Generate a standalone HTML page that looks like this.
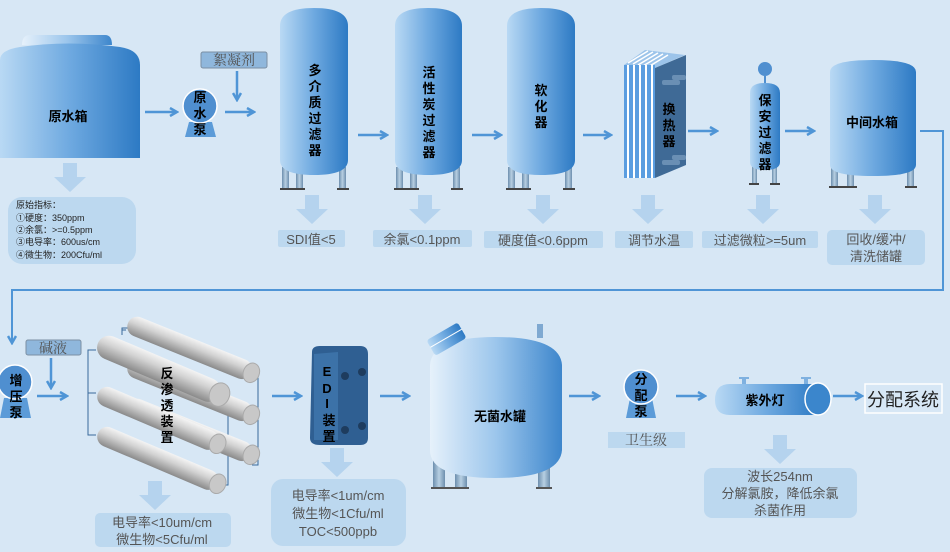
<!DOCTYPE html>
<html><head><meta charset="utf-8">
<style>
html,body{margin:0;padding:0;background:#d7e7f5;}
svg{display:block;}
text{font-family:"Liberation Sans","Noto Sans CJK SC",sans-serif;}
.b{font-weight:bold;font-size:13px;fill:#000;}
.l{font-family:"Liberation Serif","Noto Serif CJK SC",serif;font-size:14px;fill:#555;}
.ls{font-family:"Liberation Sans","Noto Sans CJK SC",sans-serif;font-size:13px;fill:#555;}
</style></head><body>
<svg width="950" height="552" viewBox="0 0 950 552" xmlns="http://www.w3.org/2000/svg">
<defs>
<linearGradient id="t" x1="0" x2="1" y1="0" y2="0">
<stop offset="0" stop-color="#b9d9f4"/><stop offset="0.5" stop-color="#6ea9e0"/><stop offset="1" stop-color="#2d7ac4"/></linearGradient>
<linearGradient id="t2" x1="0" x2="1"><stop offset="0" stop-color="#e6f1fb"/><stop offset="0.5" stop-color="#9cc6ec"/><stop offset="1" stop-color="#3d86cc"/></linearGradient>
<linearGradient id="leg" x1="0" x2="1"><stop offset="0" stop-color="#6d8fae"/><stop offset="0.5" stop-color="#b7cfe2"/><stop offset="1" stop-color="#6d8fae"/></linearGradient>
<linearGradient id="tube" x1="0" x2="0" y1="0" y2="1"><stop offset="0" stop-color="#f4f4f4"/><stop offset="0.4" stop-color="#d2d2d2"/><stop offset="1" stop-color="#8a8a8a"/></linearGradient>
<marker id="ah" markerWidth="10" markerHeight="10" refX="8" refY="5" orient="auto" markerUnits="userSpaceOnUse"><path d="M1,1 L8,5 L1,9" fill="none" stroke="#4f95d6" stroke-width="2.5"/></marker>
<g id="da"><path d="M-7,0 h14 v14 h9 l-16,15 l-16,-15 h9z" fill="#b5d3ee"/></g>
<g id="legs3"><rect x="0" y="0" width="7" height="22" fill="url(#leg)"/><rect x="14" y="0" width="7" height="22" fill="url(#leg)"/><rect x="57" y="0" width="7" height="22" fill="url(#leg)"/><rect x="-2" y="21" width="25" height="2" fill="#444"/><rect x="55" y="21" width="12" height="2" fill="#444"/></g>
</defs>
<rect width="950" height="552" fill="#d7e7f5"/>

<!-- 原水箱 -->
<path d="M22,45 Q22,35 30,35 L105,35 Q112,35 112,45 Z" fill="url(#t2)"/>
<path d="M0,60 Q0,50 20,47 Q68,40 120,47 Q140,50 140,65 L140,158 L0,158 Z" fill="url(#t)"/>
<text x="68" y="121" class="b" text-anchor="middle">原水箱</text>
<use href="#da" x="70" y="163"/>
<rect x="8" y="197" width="128" height="67" rx="14" fill="#bcd8ef"/>
<text font-size="9" fill="#222"><tspan x="16" y="208">原始指标：</tspan><tspan x="16" y="221">①硬度：350ppm</tspan><tspan x="16" y="233">②余氯：&gt;=0.5ppm</tspan><tspan x="16" y="245">③电导率：600us/cm</tspan><tspan x="16" y="258">④微生物：200Cfu/ml</tspan></text>

<line x1="145" y1="112" x2="177" y2="112" stroke="#4f95d6" stroke-width="2.5" marker-end="url(#ah)"/>
<!-- pump 1 -->
<path d="M189,122 L212,122 L216,137 L185,137Z" fill="#5b9bd8"/>
<circle cx="200" cy="106" r="17" fill="#4f8fd0" stroke="#fff" stroke-width="1.5"/>
<text class="b" font-size="12" text-anchor="middle"><tspan x="200" y="102">原</tspan><tspan x="200" y="118">水</tspan><tspan x="200" y="134">泵</tspan></text>
<rect x="201" y="52" width="66" height="16" rx="2" fill="#8fb7dc" stroke="#7b8fa3"/>
<text x="234" y="65" class="l" font-size="14" fill="#444" text-anchor="middle">絮凝剂</text>
<line x1="237" y1="71" x2="237" y2="100" stroke="#4f95d6" stroke-width="2.5" marker-end="url(#ah)"/>
<line x1="225" y1="112" x2="254" y2="112" stroke="#4f95d6" stroke-width="2.5" marker-end="url(#ah)"/>

<!-- filters -->
<g>
<use href="#legs3" x="282" y="167"/>
<path d="M280,26 Q280,8 314,8 Q348,8 348,26 L348,160 Q348,175 314,175 Q280,175 280,160Z" fill="url(#t)"/>
<text class="b" text-anchor="middle"><tspan x="315" y="75">多</tspan><tspan x="315" y="91">介</tspan><tspan x="315" y="107">质</tspan><tspan x="315" y="123">过</tspan><tspan x="315" y="139">滤</tspan><tspan x="315" y="155">器</tspan></text>
</g>
<line x1="358" y1="135" x2="387" y2="135" stroke="#4f95d6" stroke-width="2.5" marker-end="url(#ah)"/>
<g>
<use href="#legs3" x="396" y="167"/>
<path d="M395,26 Q395,8 428,8 Q462,8 462,26 L462,160 Q462,175 428,175 Q395,175 395,160Z" fill="url(#t)"/>
<text class="b" text-anchor="middle"><tspan x="429" y="77">活</tspan><tspan x="429" y="93">性</tspan><tspan x="429" y="109">炭</tspan><tspan x="429" y="125">过</tspan><tspan x="429" y="141">滤</tspan><tspan x="429" y="157">器</tspan></text>
</g>
<line x1="472" y1="135" x2="501" y2="135" stroke="#4f95d6" stroke-width="2.5" marker-end="url(#ah)"/>
<g>
<use href="#legs3" x="508" y="167"/>
<path d="M507,26 Q507,8 541,8 Q575,8 575,26 L575,160 Q575,175 541,175 Q507,175 507,160Z" fill="url(#t)"/>
<text class="b" text-anchor="middle"><tspan x="541" y="95">软</tspan><tspan x="541" y="111">化</tspan><tspan x="541" y="127">器</tspan></text>
</g>
<line x1="583" y1="135" x2="611" y2="135" stroke="#4f95d6" stroke-width="2.5" marker-end="url(#ah)"/>

<!-- heat exchanger -->
<path d="M624,65 L645,50 L685,55 L655,68 Z" fill="#9cc4ea"/>
<g stroke="#fff" stroke-width="1.5"><line x1="628" y1="63" x2="648" y2="51"/><line x1="633" y1="64" x2="653" y2="52"/><line x1="638" y1="65" x2="658" y2="53"/><line x1="643" y1="66" x2="663" y2="54"/><line x1="648" y1="67" x2="668" y2="55"/></g>
<rect x="624" y="65" width="31" height="113" fill="#5a9de0"/>
<g fill="#fff"><rect x="627" y="65" width="2" height="113"/><rect x="633" y="65" width="2" height="113"/><rect x="639" y="65" width="2" height="113"/><rect x="645" y="65" width="2" height="113"/><rect x="651" y="65" width="2" height="113"/></g>
<path d="M655,68 L686,55 L686,165 L655,178Z" fill="#3f6a96"/>
<g fill="#6a8fb4"><rect x="662" y="80" width="18" height="5" rx="2"/><rect x="672" y="75" width="14" height="5" rx="2"/><rect x="662" y="160" width="18" height="5" rx="2"/><rect x="672" y="155" width="14" height="5" rx="2"/></g>
<text class="b" text-anchor="middle"><tspan x="669" y="114">换</tspan><tspan x="669" y="130">热</tspan><tspan x="669" y="146">器</tspan></text>
<line x1="688" y1="131" x2="717" y2="131" stroke="#4f95d6" stroke-width="2.5" marker-end="url(#ah)"/>

<!-- cartridge -->
<rect x="752" y="160" width="5" height="24" fill="url(#leg)"/><rect x="772" y="160" width="5" height="24" fill="url(#leg)"/>
<rect x="749" y="183" width="10" height="2" fill="#444"/><rect x="770" y="183" width="10" height="2" fill="#444"/>
<line x1="765" y1="76" x2="765" y2="85" stroke="#4f8fd0" stroke-width="2"/>
<circle cx="765" cy="69" r="7" fill="#4f8fd0"/>
<path d="M750,93 Q750,83 765,83 Q780,83 780,93 L780,162 Q780,170 765,170 Q750,170 750,162Z" fill="url(#t)"/>
<text class="b" text-anchor="middle"><tspan x="765" y="105">保</tspan><tspan x="765" y="121">安</tspan><tspan x="765" y="137">过</tspan><tspan x="765" y="153">滤</tspan><tspan x="765" y="169">器</tspan></text>
<line x1="785" y1="131" x2="814" y2="131" stroke="#4f95d6" stroke-width="2.5" marker-end="url(#ah)"/>

<!-- middle tank -->
<g transform="translate(831,165)"><rect x="0" y="0" width="7" height="22" fill="url(#leg)"/><rect x="16" y="0" width="7" height="22" fill="url(#leg)"/><rect x="76" y="0" width="7" height="22" fill="url(#leg)"/><rect x="-2" y="21" width="28" height="2" fill="#444"/><rect x="74" y="21" width="12" height="2" fill="#444"/></g>
<path d="M830,72 Q830,60 873,60 Q916,60 916,72 L916,165 Q916,176 873,176 Q830,176 830,165Z" fill="url(#t)"/>
<text x="872" y="127" class="b" text-anchor="middle">中间水箱</text>

<!-- connector -->
<polyline points="920,131 943,131 943,290 12,290 12,343" fill="none" stroke="#4f95d6" stroke-width="2" marker-end="url(#ah)"/>

<!-- top labels -->
<use href="#da" x="312" y="195"/>
<rect x="278" y="230" width="67" height="17" rx="2" fill="#bcd8ef"/><text x="311" y="244" class="ls" text-anchor="middle">SDI值&lt;5</text>
<use href="#da" x="425" y="195"/>
<rect x="373" y="230" width="99" height="17" rx="2" fill="#bcd8ef"/><text x="422" y="244" class="ls" text-anchor="middle">余氯&lt;0.1ppm</text>
<use href="#da" x="543" y="195"/>
<rect x="484" y="231" width="119" height="17" rx="2" fill="#bcd8ef"/><text x="543" y="245" class="ls" text-anchor="middle">硬度值&lt;0.6ppm</text>
<use href="#da" x="648" y="195"/>
<rect x="615" y="231" width="78" height="17" rx="2" fill="#bcd8ef"/><text x="654" y="245" class="ls" text-anchor="middle">调节水温</text>
<use href="#da" x="763" y="195"/>
<rect x="702" y="231" width="116" height="17" rx="2" fill="#bcd8ef"/><text x="760" y="245" class="ls" text-anchor="middle">过滤微粒&gt;=5um</text>
<use href="#da" x="875" y="195"/>
<rect x="827" y="230" width="98" height="35" rx="5" fill="#bcd8ef"/><text class="ls" text-anchor="middle"><tspan x="876" y="244">回收/缓冲/</tspan><tspan x="876" y="261">清洗储罐</tspan></text>

<!-- 增压泵 -->
<path d="M4,398 L27,398 L31,418 L0,418Z" fill="#5b9bd8"/>
<circle cx="15" cy="382" r="17" fill="#4f8fd0" stroke="#fff" stroke-width="1.5"/>
<text class="b" font-size="12" text-anchor="middle"><tspan x="16" y="385">增</tspan><tspan x="16" y="401">压</tspan><tspan x="16" y="417">泵</tspan></text>
<rect x="26" y="340" width="55" height="15" rx="2" fill="#8fb7dc" stroke="#7b8fa3"/>
<text x="53" y="353" class="l" fill="#444" text-anchor="middle">碱液</text>
<line x1="51" y1="358" x2="51" y2="388" stroke="#4f95d6" stroke-width="2.5" marker-end="url(#ah)"/>
<line x1="37" y1="396" x2="67" y2="396" stroke="#4f95d6" stroke-width="2.5" marker-end="url(#ah)"/>

<!-- RO -->
<g stroke="#3a6a9a" stroke-width="1" fill="none">
<polyline points="126,330 122,330 122,330"/>
<polyline points="96,350 88,350 88,435 96,435"/>
<polyline points="88,393 96,393"/>
<polyline points="218,395 228,395 228,485 218,485"/>
<polyline points="252,378 258,378 258,465 252,465"/>
<polyline points="128,328 122,328 122,335"/>
</g>
<g>
<g transform="translate(128,323) rotate(22)"><rect x="0" y="-10" width="133" height="20" rx="10" fill="url(#tube)"/><ellipse cx="133" cy="0" rx="8" ry="10" fill="#c8c8c8" stroke="#aaa"/></g>
<g transform="translate(128,365) rotate(22)"><rect x="0" y="-10" width="133" height="20" rx="10" fill="url(#tube)"/><ellipse cx="133" cy="0" rx="8" ry="10" fill="#c8c8c8" stroke="#aaa"/></g>
<g transform="translate(128,405) rotate(22)"><rect x="0" y="-10" width="133" height="20" rx="10" fill="url(#tube)"/><ellipse cx="133" cy="0" rx="8" ry="10" fill="#c8c8c8" stroke="#aaa"/></g>
<g transform="translate(98,343) rotate(23)"><rect x="0" y="-12" width="132" height="24" rx="12" fill="url(#tube)"/><ellipse cx="132" cy="0" rx="10" ry="12" fill="#c8c8c8" stroke="#aaa"/></g>
<g transform="translate(98,393) rotate(23)"><rect x="0" y="-10" width="130" height="20" rx="10" fill="url(#tube)"/><ellipse cx="130" cy="0" rx="8" ry="10" fill="#c8c8c8" stroke="#aaa"/></g>
<g transform="translate(98,433) rotate(23)"><rect x="0" y="-10" width="130" height="20" rx="10" fill="url(#tube)"/><ellipse cx="130" cy="0" rx="8" ry="10" fill="#c8c8c8" stroke="#aaa"/></g>
</g>
<text class="b" font-weight="normal" font-size="14" text-anchor="middle"><tspan x="167" y="378">反</tspan><tspan x="167" y="394">渗</tspan><tspan x="167" y="410">透</tspan><tspan x="167" y="426">装</tspan><tspan x="167" y="442">置</tspan></text>
<line x1="272" y1="396" x2="301" y2="396" stroke="#4f95d6" stroke-width="2.5" marker-end="url(#ah)"/>

<!-- EDI -->
<path d="M312,352 Q312,346 320,346 L360,346 Q368,346 368,354 L368,438 Q368,445 360,445 L320,445 Q310,445 310,438Z" fill="#2f5f92"/>
<path d="M314,354 L338,352 L338,440 L314,440Z" fill="#3c72a8"/>
<g fill="#1e3c5e"><circle cx="345" cy="376" r="4"/><circle cx="362" cy="372" r="4"/><circle cx="345" cy="430" r="4"/><circle cx="362" cy="426" r="4"/></g>
<text class="b" font-size="12" text-anchor="middle"><tspan x="327" y="376">E</tspan><tspan x="327" y="393">D</tspan><tspan x="327" y="408">I</tspan><tspan x="329" y="425">装</tspan><tspan x="329" y="441">置</tspan></text>
<line x1="380" y1="396" x2="409" y2="396" stroke="#4f95d6" stroke-width="2.5" marker-end="url(#ah)"/>

<!-- sterile tank -->
<g><rect x="433" y="450" width="12" height="38" fill="url(#leg)"/><rect x="455" y="450" width="12" height="38" fill="url(#leg)"/><rect x="538" y="450" width="12" height="38" fill="url(#leg)"/><rect x="431" y="487" width="38" height="2" fill="#555"/><rect x="536" y="487" width="16" height="2" fill="#555"/></g>
<rect x="537" y="324" width="6" height="14" fill="#7fa9d1"/>
<path d="M430,365 Q432,337 495,337 Q560,337 562,365 L562,450 Q560,478 495,478 Q430,478 430,450Z" fill="url(#t2)"/>
<g transform="translate(447,340) rotate(-30)"><rect x="-18" y="-10" width="36" height="18" rx="3" fill="url(#t)"/><line x1="-18" y1="-2" x2="18" y2="-2" stroke="#fff"/></g>
<text x="500" y="421" class="b" text-anchor="middle">无菌水罐</text>
<line x1="569" y1="396" x2="599" y2="396" stroke="#4f95d6" stroke-width="2.5" marker-end="url(#ah)"/>

<!-- 分配泵 -->
<path d="M630,398 L652,398 L656,418 L626,418Z" fill="#5b9bd8"/>
<circle cx="641" cy="387" r="17" fill="#4f8fd0" stroke="#fff" stroke-width="1.5"/>
<text class="b" font-size="12" text-anchor="middle"><tspan x="641" y="384">分</tspan><tspan x="641" y="400">配</tspan><tspan x="641" y="416">泵</tspan></text>
<rect x="608" y="432" width="77" height="16" fill="#bcd8ef"/>
<text x="646" y="445" class="l" text-anchor="middle">卫生级</text>
<line x1="676" y1="396" x2="705" y2="396" stroke="#4f95d6" stroke-width="2.5" marker-end="url(#ah)"/>

<!-- UV -->
<g fill="#7fb1e0"><rect x="739" y="377" width="10" height="2"/><rect x="742" y="377" width="4" height="8"/><rect x="801" y="377" width="10" height="2"/><rect x="804" y="377" width="4" height="8"/></g>
<path d="M730,384 L818,384 L818,415 L730,415 Q715,415 715,400 Q715,384 730,384Z" fill="url(#t)"/>
<ellipse cx="818" cy="399" rx="13" ry="16" fill="#3b86cc" stroke="#fff" stroke-width="1.5"/>
<text x="765" y="405" class="b" text-anchor="middle">紫外灯</text>
<line x1="833" y1="396" x2="862" y2="396" stroke="#4f95d6" stroke-width="2.5" marker-end="url(#ah)"/>
<rect x="865" y="384" width="77" height="29" fill="#d7e7f5" stroke="#fff" stroke-width="1.5"/>
<text x="903" y="406" font-family="Liberation Serif,Noto Serif CJK SC,serif" font-size="18" fill="#222" text-anchor="middle">分配系统</text>

<!-- bottom labels -->
<use href="#da" x="155" y="481"/>
<rect x="95" y="513" width="136" height="34" rx="5" fill="#bcd8ef"/>
<text class="ls" font-size="14" text-anchor="middle"><tspan x="162" y="527">电导率&lt;10um/cm</tspan><tspan x="162" y="544">微生物&lt;5Cfu/ml</tspan></text>
<use href="#da" x="337" y="448"/>
<rect x="271" y="479" width="135" height="67" rx="12" fill="#bcd8ef"/>
<text class="ls" font-size="14" text-anchor="middle"><tspan x="338" y="500">电导率&lt;1um/cm</tspan><tspan x="338" y="518">微生物&lt;1Cfu/ml</tspan><tspan x="338" y="536">TOC&lt;500ppb</tspan></text>
<use href="#da" x="780" y="435"/>
<rect x="704" y="468" width="153" height="50" rx="8" fill="#bcd8ef"/>
<text class="ls" font-size="14" text-anchor="middle"><tspan x="780" y="481">波长254nm</tspan><tspan x="780" y="498">分解氯胺，降低余氯</tspan><tspan x="780" y="515">杀菌作用</tspan></text>
</svg>
</body></html>
